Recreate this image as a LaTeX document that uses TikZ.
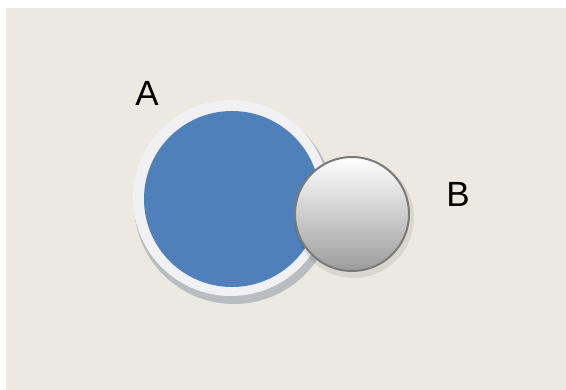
\documentclass[tikz,border=0pt]{standalone}
\usepackage{fontspec}
\setmainfont{Liberation Sans}
\definecolor{bgbeige}{HTML}{ECE9E0}
\definecolor{ablue}{HTML}{4F80BA}
\definecolor{ringwhite}{HTML}{F1F1F3}
\definecolor{ringshadow}{HTML}{8C9AA6}
\definecolor{bborder}{HTML}{7A7A7A}
\definecolor{bbottom}{HTML}{9C9C9C}
\tikzset{
  disc/.style={circle, inner sep=0pt, draw=none},
  lbl/.style={inner sep=0pt, font=\fontsize{35}{40}\selectfont, text=black}
}
\begin{document}
\begin{tikzpicture}[x=1pt, y=-1pt]
\useasboundingbox (0,0) rectangle (566,390);
\fill[white] (0,0) rectangle (566,390);
\fill[bgbeige] (6,8) rectangle (566,390);
% set A
\node[disc, fill=ringshadow, opacity=0.55, minimum size=200pt] (ashadow) at (234,204) {};
\node[disc, fill=ringwhite, minimum size=196pt] (aring) at (231,198) {};
\node[disc, fill=ablue, minimum size=176pt] (a) at (232,199) {};
% set B
\node[disc, fill=black, opacity=0.08, minimum size=120pt] (bshadow) at (354,218) {};
\node[disc, draw=bborder, line width=2pt, top color=white, bottom color=bbottom, shading angle=0, minimum size=114pt] (b) at (352,214) {};
% labels
\node[lbl] (la) at (147,93) {A};
\node[lbl] (lb) at (458,194) {B};
\end{tikzpicture}
\end{document}
